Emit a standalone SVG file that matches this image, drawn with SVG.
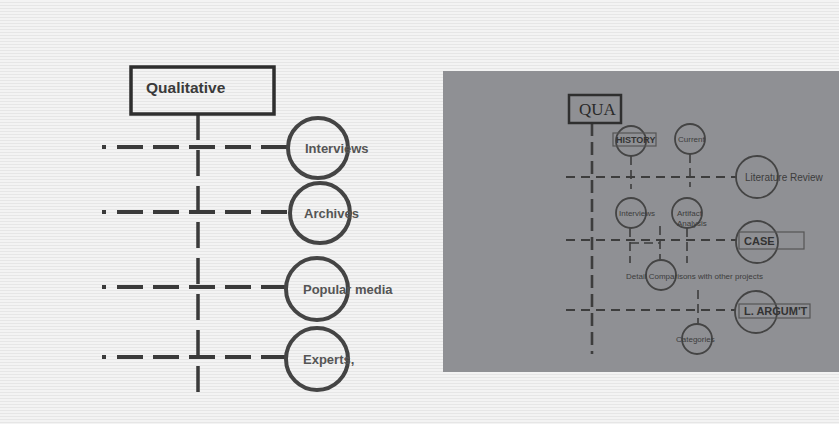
<svg xmlns="http://www.w3.org/2000/svg" width="839" height="424" viewBox="0 0 839 424">
<defs>
<pattern id="scan" width="4" height="3" patternUnits="userSpaceOnUse">
<rect width="4" height="3" fill="#f3f3f3"/>
<rect y="2" width="4" height="1" fill="#e6e6e6"/>
</pattern>
<style>
.lbox{fill:none;stroke:#2e2e2e;stroke-width:3.5}
.lcirc{fill:none;stroke:#444;stroke-width:4}
.ltxt{font-family:"Liberation Sans",Arial,sans-serif;font-weight:bold;font-size:13px;fill:#555}
.lh{stroke:#3a3a3a;stroke-width:4;fill:none;stroke-dasharray:26 10}
.lv{stroke:#3a3a3a;stroke-width:3.5;fill:none;stroke-dasharray:26 10}
.rbox{fill:none;stroke:#2f2f2f;stroke-width:2.5}
.rcirc{fill:none;stroke:#444;stroke-width:1.8}
.rrect{fill:none;stroke:#555;stroke-width:1.2}
.rtxt{font-family:"Liberation Sans",Arial,sans-serif;font-size:8px;fill:#3c3c3c}
.rbold{font-family:"Liberation Sans",Arial,sans-serif;font-weight:bold;font-size:11px;fill:#333}
.rh{stroke:#3d3d3d;stroke-width:2.2;fill:none;stroke-dasharray:9 6}
.rv{stroke:#3d3d3d;stroke-width:2.6;fill:none;stroke-dasharray:13 6}
.rs{stroke:#3d3d3d;stroke-width:1.6;fill:none;stroke-dasharray:9 5}
</style>
</defs>
<rect width="839" height="424" fill="url(#scan)"/>
<rect x="443" y="71" width="396" height="301" fill="#8f9094"/>

<g id="connectors">
<!-- left -->
<line class="lv" x1="198" y1="114" x2="198" y2="396"/>
<line class="lh" x1="102" y1="147" x2="106" y2="147"/>
<line class="lh" x1="117" y1="147" x2="288" y2="147"/>
<line class="lh" x1="102" y1="212" x2="106" y2="212"/>
<line class="lh" x1="117" y1="212" x2="290" y2="212"/>
<line class="lh" x1="102" y1="287" x2="106" y2="287"/>
<line class="lh" x1="117" y1="287" x2="286" y2="287"/>
<line class="lh" x1="102" y1="357" x2="106" y2="357"/>
<line class="lh" x1="117" y1="357" x2="286" y2="357"/>
<!-- right -->
<line class="rv" x1="592" y1="123" x2="592" y2="354"/>
<line class="rh" x1="566" y1="177" x2="737" y2="177"/>
<line class="rh" x1="566" y1="240" x2="737" y2="240"/>
<line class="rh" x1="566" y1="310" x2="736" y2="310"/>
<line class="rs" x1="631" y1="156" x2="631" y2="189"/>
<line class="rs" x1="690" y1="154" x2="690" y2="187"/>
<line class="rs" x1="630" y1="228" x2="630" y2="263"/>
<line class="rs" x1="630" y1="243" x2="660" y2="243"/>
<line class="rs" x1="660" y1="226" x2="660" y2="260"/>
<line class="rs" x1="687" y1="228" x2="687" y2="263"/>
<line class="rs" x1="698" y1="290" x2="698" y2="324"/>
</g>

<g id="qualitative">
<rect class="lbox" x="131" y="67" width="143" height="47"/>
<text x="146" y="93" font-family="'Liberation Sans',Arial,sans-serif" font-weight="bold" font-size="15.5" fill="#3a3a3a">Qualitative</text>
</g>
<g id="interviews">
<circle class="lcirc" cx="318" cy="148" r="30"/>
<text class="ltxt" x="305" y="153">Interviews</text>
</g>
<g id="archives">
<circle class="lcirc" cx="320" cy="213" r="30"/>
<text class="ltxt" x="304" y="218">Archives</text>
</g>
<g id="popular-media">
<circle class="lcirc" cx="317" cy="289" r="31"/>
<text class="ltxt" x="303" y="294">Popular media</text>
</g>
<g id="experts">
<circle class="lcirc" cx="317" cy="359" r="31"/>
<text class="ltxt" x="303" y="364">Experts,</text>
</g>

<g id="qua">
<rect class="rbox" x="569" y="95" width="52" height="28"/>
<text x="579" y="115" font-family="'Liberation Serif','Times New Roman',serif" font-size="17" fill="#2a2a2a">QUA</text>
</g>
<g id="history">
<circle class="rcirc" cx="631" cy="141" r="15"/>
<rect class="rrect" x="613" y="133" width="43" height="13"/>
<text class="rbold" x="616" y="143" style="font-size:9px">HISTORY</text>
</g>
<g id="current">
<circle class="rcirc" cx="690" cy="139" r="15"/>
<text class="rtxt" x="678" y="142">Current</text>
</g>
<g id="literature-review">
<circle class="rcirc" cx="757" cy="177" r="21"/>
<text class="rtxt" x="745" y="181" style="font-size:10px">Literature Review</text>
</g>
<g id="interviews-2">
<circle class="rcirc" cx="631" cy="213" r="15"/>
<text class="rtxt" x="619" y="216">Interviews</text>
</g>
<g id="artifact-analysis">
<circle class="rcirc" cx="687" cy="213" r="15"/>
<text class="rtxt" x="677" y="216">Artifact</text>
<text class="rtxt" x="677" y="226">Analysis</text>
</g>
<g id="case">
<circle class="rcirc" cx="757" cy="242" r="21"/>
<rect class="rrect" x="739" y="232" width="65" height="17"/>
<text class="rbold" x="744" y="245">CASE</text>
</g>
<g id="detail-comparisons">
<circle class="rcirc" cx="661" cy="275" r="15"/>
<text class="rtxt" x="626" y="279">Detail Comparisons with other projects</text>
</g>
<g id="l-argumt">
<circle class="rcirc" cx="756" cy="312" r="21"/>
<rect class="rrect" x="739" y="304" width="71" height="14"/>
<text class="rbold" x="744" y="315">L. ARGUM'T</text>
</g>
<g id="categories">
<circle class="rcirc" cx="697" cy="339" r="15"/>
<text class="rtxt" x="676" y="342">Categories</text>
</g>
</svg>
